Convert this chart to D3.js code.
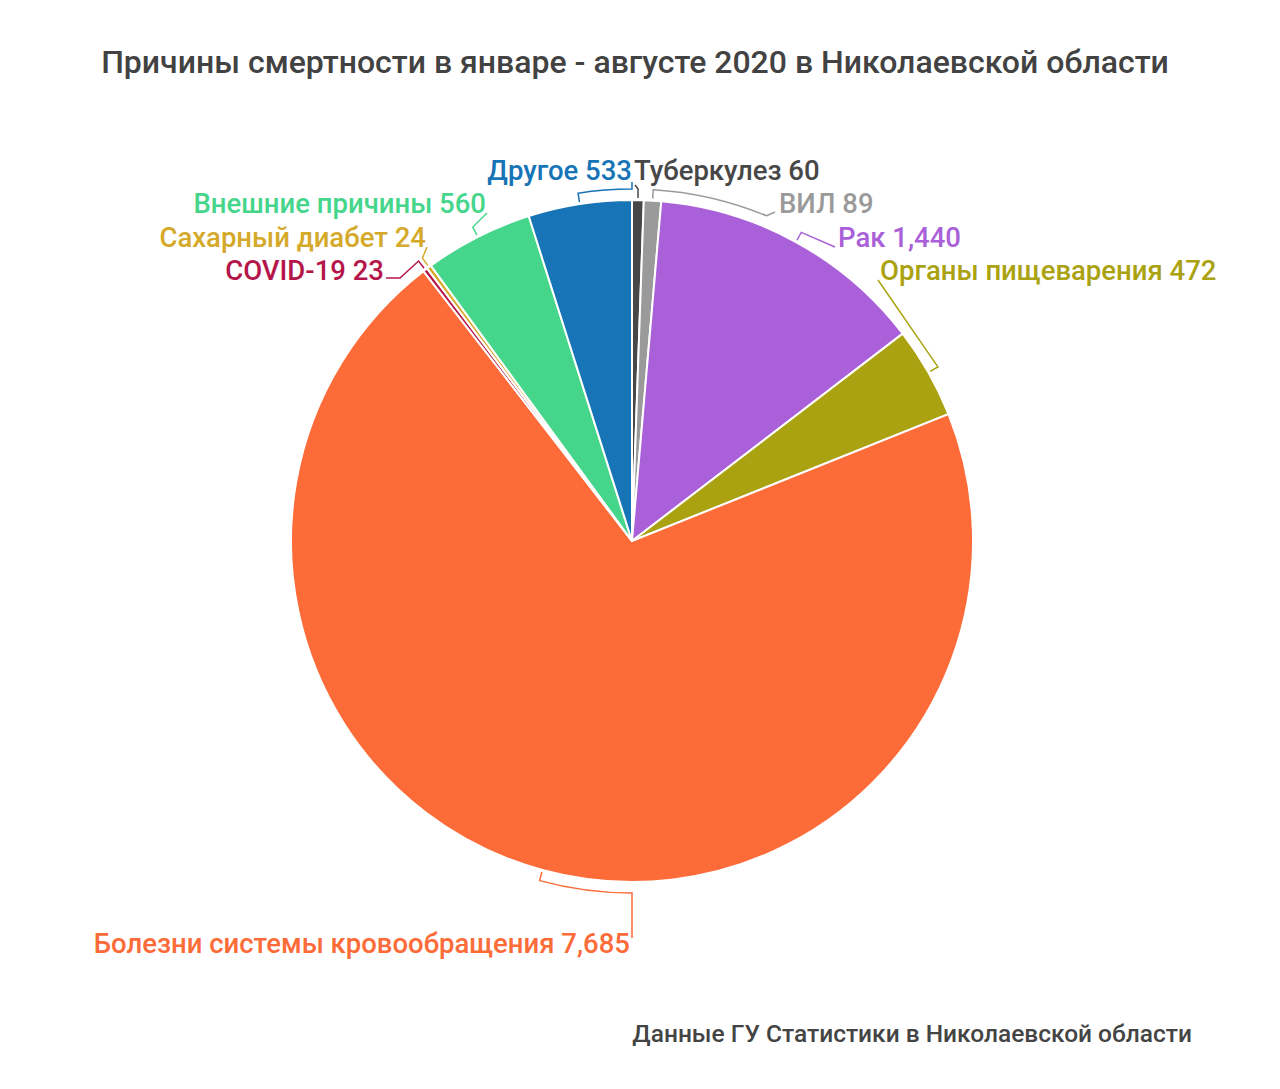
<!DOCTYPE html>
<html>
<head>
<meta charset="utf-8">
<script src="https://cdn.jsdelivr.net/npm/d3@7"></script>
<style>
	body { margin: 0; background: #fff; }
	svg { display: block; font-family: Roboto, 'Noto Sans', sans-serif; }
</style>
</head>
<body>
<svg width="1280" height="1089"></svg>
<script>

// Данные
const categories = [ 'Туберкулез', 'ВИЛ', 'Рак', 'Органы пищеварения', 'Болезни системы кровообращения', 'COVID-19', 'Сахарный диабет', 'Внешние причины', 'Другое' ]
const values = [ 60, 89, 1440, 472, 7685, 23, 24, 560, 533 ]
const colors = [ '#474747', '#9a9a9a', '#a960d8', '#aaa211', '#fc6b38', '#b5164a', '#d5a929', '#45d68b', '#1774b6' ]

const title = 'Причины смертности в январе - августе 2020 в Николаевской области'
const source = 'Данные ГУ Статистики в Николаевской области'

// Раскладка подписей (относительно центра круга): угол изгиба, точки линии, позиция текста
const labelLayout = [
	{ elbow: null, pts: [ [ 3, -356 ] ], x: 2, y: -371, anchor: 'start' },
	{ elbow: 22.5, pts: [ [ 143, -329 ] ], x: 147, y: -338, anchor: 'start' },
	{ elbow: null, pts: [ [ 203, -294 ] ], x: 206, y: -304, anchor: 'start' },
	{ elbow: null, pts: [ [ 246, -261 ] ], x: 248, y: -271, anchor: 'start' },
	{ elbow: 180, pts: [ [ 0, 397 ] ], x: -2, y: 402, anchor: 'end' },
	{ elbow: null, pts: [ [ -232, -263 ], [ -246, -263 ] ], x: -248, y: -271, anchor: 'end' },
	{ elbow: null, pts: [ [ -205, -294 ] ], x: -206, y: -304, anchor: 'end' },
	{ elbow: null, pts: [ [ -145, -328 ] ], x: -146, y: -338, anchor: 'end' },
	{ elbow: 360, pts: [ [ 0, -359 ] ], x: 0, y: -371, anchor: 'end' }
]

const svg = d3.select( 'svg' ),
	cx = 632,
	cy = 541,
	radius = 341,
	formatNumber = d3.format( ',' )

svg.append( 'text' )
	.attr( 'x', 635 )
	.attr( 'y', 62 )
	.attr( 'dy', '0.35em' )
	.attr( 'text-anchor', 'middle' )
	.attr( 'font-size', 32 )
	.attr( 'font-weight', 500 )
	.attr( 'fill', '#424242' )
	.text( title )

svg.append( 'text' )
	.attr( 'x', 1192 )
	.attr( 'y', 1033 )
	.attr( 'dy', '0.35em' )
	.attr( 'text-anchor', 'end' )
	.attr( 'font-size', 24.5 )
	.attr( 'font-weight', 500 )
	.attr( 'fill', '#444' )
	.text( source )

const pie = d3.pie().sort( null ).value( d => d )
const arcs = pie( values )

const arc = d3.arc().innerRadius( 0 ).outerRadius( radius )

const g = svg.append( 'g' ).attr( 'transform', `translate(${cx},${cy})` )

g.selectAll( 'path.slice' )
	.data( arcs )
	.enter()
	.append( 'path' )
	.attr( 'class', 'slice' )
	.attr( 'd', arc )
	.attr( 'fill', ( d, i ) => colors[ i ] )
	.attr( 'stroke', '#fff' )
	.attr( 'stroke-width', 2 )

// Полярные координаты -> точка (угол 0 сверху, по часовой)
const polar = ( a, r ) => [ r * Math.sin( a ), -r * Math.cos( a ) ]

const tickIn = radius + 2,
	tickOut = radius + 11

arcs.forEach( ( d, i ) => {

	const lay = labelLayout[ i ],
		mid = ( d.startAngle + d.endAngle ) / 2,
		path = d3.path()

	const p0 = polar( mid, tickIn ),
		p1 = polar( mid, tickOut )

	path.moveTo( p0[ 0 ], p0[ 1 ] )
	path.lineTo( p1[ 0 ], p1[ 1 ] )

	// Дуга вдоль круга до угла изгиба
	if ( lay.elbow !== null ) {

		const e = lay.elbow * Math.PI / 180
		path.arc( 0, 0, tickOut, mid - Math.PI / 2, e - Math.PI / 2, e < mid )

	}

	lay.pts.forEach( p => path.lineTo( p[ 0 ], p[ 1 ] ) )

	g.append( 'path' )
		.attr( 'd', path.toString() )
		.attr( 'fill', 'none' )
		.attr( 'stroke', colors[ i ] )
		.attr( 'stroke-width', 1.5 )

	g.append( 'text' )
		.attr( 'x', lay.x )
		.attr( 'y', lay.y )
		.attr( 'dy', '0.35em' )
		.attr( 'text-anchor', lay.anchor )
		.attr( 'font-size', 27.5 )
		.attr( 'font-weight', 500 )
		.attr( 'fill', colors[ i ] )
		.text( `${categories[ i ]} ${formatNumber( values[ i ] )}` )

})

</script>
</body>
</html>
